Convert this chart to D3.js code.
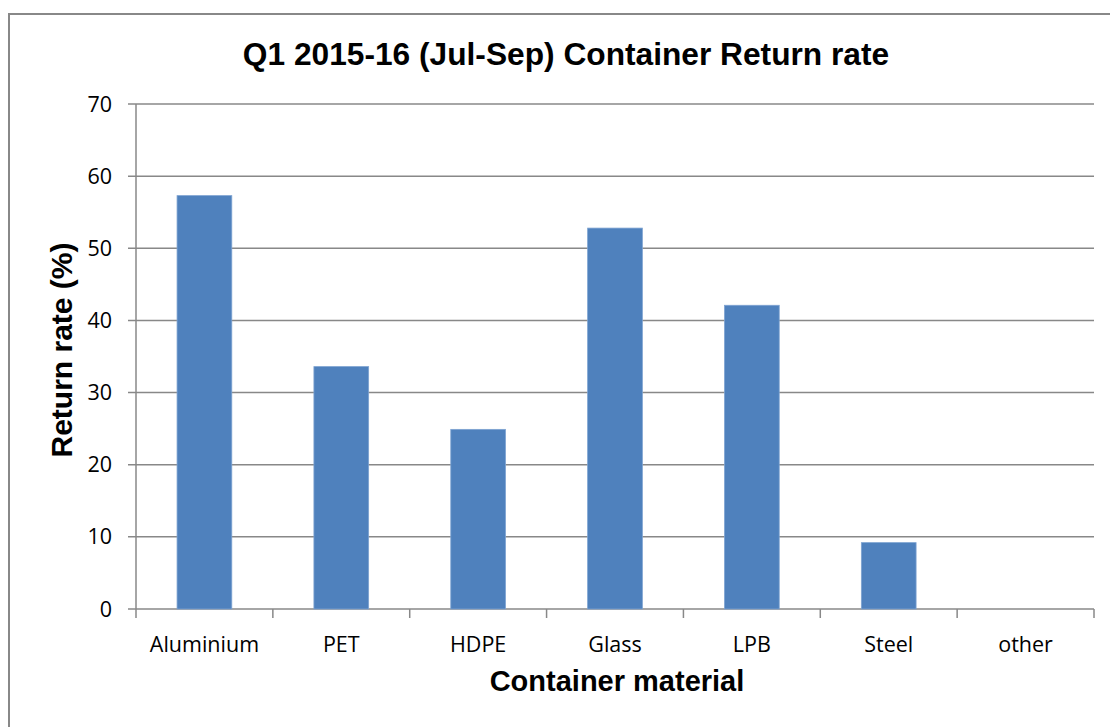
<!DOCTYPE html>
<html>
<head>
<meta charset="utf-8">
<script src="https://cdn.jsdelivr.net/npm/d3@7"></script>
<style>
  body { margin: 0; background: #fff; }
  svg { display: block; }
</style>
</head>
<body>
<div id="chart"></div>
<script>
// chart data
var materials = ["Aluminium", "PET", "HDPE", "Glass", "LPB", "Steel", "other"];
var returnRates = [57.3, 33.6, 24.9, 52.8, 42.1, 9.2, 0];
var yTicks = [0, 10, 20, 30, 40, 50, 60, 70];

var svgWidth = 1110;
var svgHeight = 727;

var margin = { top: 104, right: 16, bottom: 118, left: 136 };
var width = svgWidth - margin.left - margin.right;
var height = svgHeight - margin.top - margin.bottom;

var svg = d3.select("#chart").append("svg")
    .attr("width", svgWidth)
    .attr("height", svgHeight);

// outer chart border
svg.append("rect")
    .attr("x", 9)
    .attr("y", 14)
    .attr("width", svgWidth)
    .attr("height", svgHeight)
    .attr("fill", "none")
    .attr("stroke", "#888")
    .attr("stroke-width", 2);

var chartGroup = svg.append("g")
    .attr("transform", `translate(${margin.left}, ${margin.top})`);

var xScale = d3.scaleBand()
    .domain(materials)
    .range([0, width])
    .paddingInner(0.6)
    .paddingOuter(0.3);

var xBoundary = d3.scaleLinear()
    .domain([0, materials.length])
    .range([0, width]);

var yScale = d3.scaleLinear()
    .domain([0, 70])
    .range([height, 0]);

// gridlines
chartGroup.append("g")
    .selectAll("line")
    .data(yTicks)
    .enter()
    .append("line")
    .attr("x1", -8)
    .attr("x2", width)
    .attr("y1", d => yScale(d))
    .attr("y2", d => yScale(d))
    .attr("stroke", "#888")
    .attr("stroke-width", 1.5);

// y axis line
chartGroup.append("line")
    .attr("x1", 0).attr("x2", 0)
    .attr("y1", 0).attr("y2", height)
    .attr("stroke", "#888")
    .attr("stroke-width", 1.5);

// x axis tick marks at category boundaries
chartGroup.append("g")
    .selectAll("line")
    .data(d3.range(materials.length + 1))
    .enter()
    .append("line")
    .attr("x1", d => xBoundary(d))
    .attr("x2", d => xBoundary(d))
    .attr("y1", height)
    .attr("y2", height + 9)
    .attr("stroke", "#888")
    .attr("stroke-width", 1.5);

// bars
chartGroup.selectAll("rect.bar")
    .data(returnRates)
    .enter()
    .append("rect")
    .classed("bar", true)
    .attr("x", (d, i) => xScale(materials[i]))
    .attr("y", d => yScale(d))
    .attr("width", xScale.bandwidth())
    .attr("height", d => height - yScale(d))
    .attr("fill", "#4f81bd")
    .attr("stroke", d => d > 0 ? "#7ea3d1" : "none")
    .attr("stroke-width", 0.8);

// y tick labels
chartGroup.append("g")
    .selectAll("text")
    .data(yTicks)
    .enter()
    .append("text")
    .attr("x", -24)
    .attr("y", d => yScale(d))
    .attr("dy", "0.35em")
    .attr("text-anchor", "end")
    .attr("font-family", "'Open Sans', Lato, sans-serif")
    .attr("font-size", "21.5px")
    .attr("fill", "#000")
    .text(d => d);

// x tick labels
chartGroup.append("g")
    .selectAll("text")
    .data(materials)
    .enter()
    .append("text")
    .attr("x", d => xScale(d) + xScale.bandwidth() / 2)
    .attr("y", height + 43)
    .attr("text-anchor", "middle")
    .attr("font-family", "'Open Sans', Lato, sans-serif")
    .attr("font-size", "21.5px")
    .attr("fill", "#000")
    .text(d => d);

// title
svg.append("text")
    .attr("x", 566)
    .attr("y", 65)
    .attr("text-anchor", "middle")
    .attr("font-family", "'Liberation Sans', Arial, sans-serif")
    .attr("font-weight", "bold")
    .attr("font-size", "31.7px")
    .text("Q1 2015-16 (Jul-Sep) Container Return rate");

// x axis title
svg.append("text")
    .attr("x", 617)
    .attr("y", 691)
    .attr("text-anchor", "middle")
    .attr("font-family", "'Liberation Sans', Arial, sans-serif")
    .attr("font-weight", "bold")
    .attr("font-size", "29px")
    .text("Container material");

// y axis title
svg.append("text")
    .attr("transform", `translate(72, 350) rotate(-90)`)
    .attr("text-anchor", "middle")
    .attr("font-family", "'Liberation Sans', Arial, sans-serif")
    .attr("font-weight", "bold")
    .attr("font-size", "30px")
    .text("Return rate (%)");
</script>
</body>
</html>
